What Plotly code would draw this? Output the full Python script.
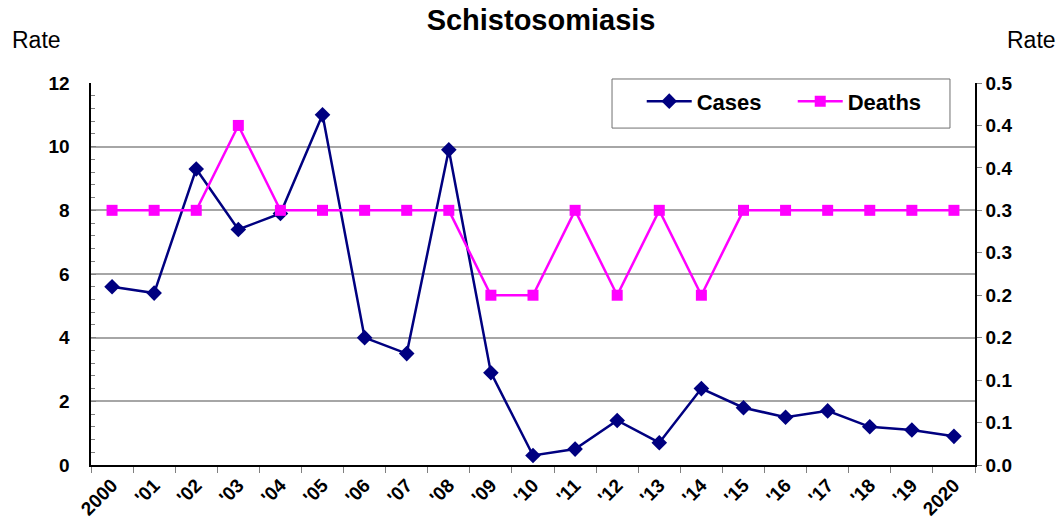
import plotly.graph_objects as go

years = ["2000", "'01", "'02", "'03", "'04", "'05", "'06", "'07", "'08", "'09", "'10",
         "'11", "'12", "'13", "'14", "'15", "'16", "'17", "'18", "'19", "2020"]
cases = [5.6, 5.4, 9.3, 7.4, 7.9, 11.0, 4.0, 3.5, 9.9, 2.9, 0.3,
         0.5, 1.4, 0.7, 2.4, 1.8, 1.5, 1.7, 1.2, 1.1, 0.9]
deaths = [0.3, 0.3, 0.3, 0.4, 0.3, 0.3, 0.3, 0.3, 0.3, 0.2, 0.2,
          0.3, 0.2, 0.3, 0.2, 0.3, 0.3, 0.3, 0.3, 0.3, 0.3]
right_tickvals = [0, 0.05, 0.1, 0.15, 0.2, 0.25, 0.3, 0.35, 0.4, 0.45]
right_ticktext = ["0.0", "0.1", "0.1", "0.2", "0.2", "0.3", "0.3", "0.4", "0.4", "0.5"]

FONT = "Liberation Sans, Arial, sans-serif"
TICKFONT = dict(size=19, family=FONT, weight="bold", color="black")

fig = go.Figure()
fig.add_trace(go.Scatter(
    x=years, y=cases, name="Cases", mode="lines+markers",
    line=dict(color="#000080", width=2.5),
    marker=dict(symbol="diamond", size=12, color="#000080"),
))
fig.add_trace(go.Scatter(
    x=years, y=deaths, name="Deaths", mode="lines+markers", yaxis="y2",
    line=dict(color="#FF00FF", width=2.5),
    marker=dict(symbol="square", size=11, color="#FF00FF"),
))

fig.update_layout(
    width=1063, height=527,
    margin=dict(l=91, r=88, t=83, b=62, autoexpand=False),
    paper_bgcolor="white", plot_bgcolor="white",
    font=dict(family=FONT, color="black"),
    title=dict(text="<b>Schistosomiasis</b>", x=0.509, xanchor="center",
               y=0.962, yanchor="middle", font=dict(size=29, family=FONT)),
    xaxis=dict(
        type="category", tickson="boundaries", ticks="outside", ticklen=6,
        tickcolor="#808080", showline=True, linecolor="black", linewidth=1.5,
        tickangle=-45, tickfont=TICKFONT, automargin=False,
        showgrid=False, range=[-0.5, 20.5],
    ),
    yaxis=dict(
        range=[0, 12], dtick=2, showgrid=True, gridcolor="#a6a6a6", gridwidth=1.5,
        showline=True, linecolor="black", linewidth=1.5,
        ticks="inside", ticklen=5, tickcolor="#808080", automargin=False,
        minor=dict(dtick=0.4, ticks="inside", ticklen=4, tickcolor="#808080", showgrid=False),
        tickfont=TICKFONT, zeroline=False, ticksuffix="\u00a0\u00a0\u00a0",
    ),
    yaxis2=dict(
        overlaying="y", side="right", range=[0, 0.45],
        tickvals=right_tickvals, ticktext=right_ticktext,
        showline=True, linecolor="black", linewidth=1.5, automargin=False,
        ticks="outside", ticklen=5, tickcolor="#808080", showgrid=False,
        tickfont=TICKFONT, zeroline=False, ticklabelstandoff=0,
    ),
    legend=dict(
        x=0.623, y=1.007, xanchor="left", yanchor="top", orientation="h",
        borderwidth=0, bgcolor="rgba(0,0,0,0)",
        font=dict(size=22, family=FONT, weight="bold"),
        entrywidth=91, itemwidth=45,
    ),
    showlegend=True,
    shapes=[
        dict(type="rect", xref="paper", yref="paper",
             x0=0.5894, x1=0.9717, y0=0.882, y1=1.0105,
             line=dict(color="#707070", width=1), fillcolor="white", layer="above"),
    ],
    annotations=[
        dict(text="Rate", xref="paper", yref="paper", x=-0.0916, y=1.1126,
             xanchor="left", yanchor="middle", showarrow=False,
             font=dict(size=23, family=FONT)),
        dict(text="Rate", xref="paper", yref="paper", x=1.034, y=1.1126,
             xanchor="left", yanchor="middle", showarrow=False,
             font=dict(size=23, family=FONT)),
    ],
)

fig.write_html("out.html", config={"displayModeBar": False},
               post_script="document.body.style.margin='0';")
